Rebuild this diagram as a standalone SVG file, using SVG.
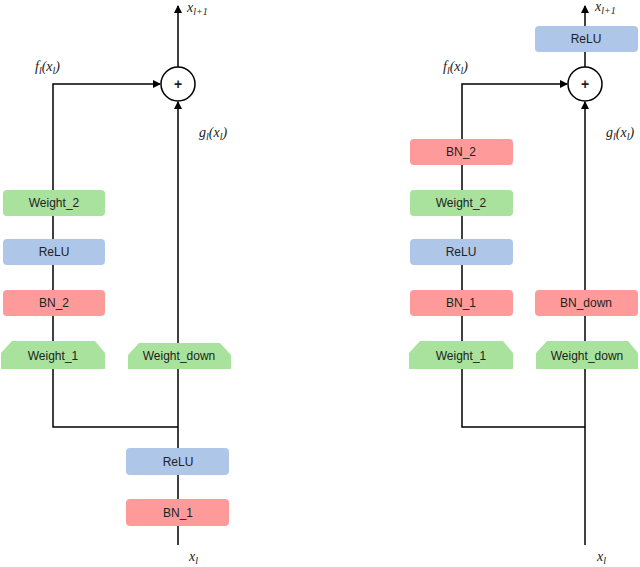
<svg xmlns="http://www.w3.org/2000/svg" width="640" height="567" viewBox="0 0 640 567">
<style>
.g{fill:#a8e29c}.b{fill:#aec6e8}.r{fill:#ff9a9a}
.t{font-family:"Liberation Sans",Arial,sans-serif;font-size:12px;fill:#222;text-anchor:middle}
.m{font-family:"Liberation Serif","Times New Roman",serif;font-style:italic;font-size:14px;fill:#222}
.s{font-size:10px}
.l{stroke:#000;stroke-width:1.5;fill:none}
</style>
<defs><marker id="a" markerWidth="8" markerHeight="8" refX="7" refY="4" orient="auto" markerUnits="userSpaceOnUse"><path d="M0,0 L8,4 L0,8z" fill="#000"/></marker></defs>
<g id="connectors">
<path class="l" d="M178,545 V102" marker-end="url(#a)"/>
<path class="l" d="M178,67 V6" marker-end="url(#a)"/>
<path class="l" d="M178,427 H53 V84 H160" marker-end="url(#a)"/>
<path class="l" d="M585,545 V102" marker-end="url(#a)"/>
<path class="l" d="M585,67 V6" marker-end="url(#a)"/>
<path class="l" d="M585,427 H462 V84 H567" marker-end="url(#a)"/>
</g>
<g id="addL"><circle cx="178" cy="84" r="17" fill="#fff" stroke="#000" stroke-width="1.5"/><text x="178" y="89" class="t" style="font-weight:bold;font-size:14px">+</text></g>
<g id="addR"><circle cx="585" cy="84" r="17" fill="#fff" stroke="#000" stroke-width="1.5"/><text x="585" y="89" class="t" style="font-weight:bold;font-size:14px">+</text></g>
<g id="L_w2"><rect class="g" x="3" y="190" width="102" height="26" rx="4"/><text class="t" x="54" y="207">Weight_2</text></g>
<g id="L_relu"><rect class="b" x="3" y="239" width="102" height="26" rx="4"/><text class="t" x="54" y="256">ReLU</text></g>
<g id="L_bn2"><rect class="r" x="3" y="290" width="102" height="26" rx="4"/><text class="t" x="54" y="307">BN_2</text></g>
<g id="L_w1"><path class="g" d="M12,341 H95 L105,353 V369 H1 V353z"/><text class="t" x="53" y="360">Weight_1</text></g>
<g id="L_wd"><path class="g" d="M139,343 H220 L231,355 V369 H128 V355z"/><text class="t" x="179" y="360">Weight_down</text></g>
<g id="L_relu1"><rect class="b" x="126" y="448" width="103" height="27" rx="4"/><text class="t" x="178" y="466">ReLU</text></g>
<g id="L_bn1"><rect class="r" x="126" y="499" width="103" height="27" rx="4"/><text class="t" x="178" y="517">BN_1</text></g>
<g id="R_relu0"><rect class="b" x="535" y="26" width="103" height="26" rx="4"/><text class="t" x="586" y="43">ReLU</text></g>
<g id="R_bn2"><rect class="r" x="410" y="139" width="103" height="26" rx="4"/><text class="t" x="461" y="156">BN_2</text></g>
<g id="R_w2"><rect class="g" x="410" y="190" width="103" height="26" rx="4"/><text class="t" x="461" y="207">Weight_2</text></g>
<g id="R_relu"><rect class="b" x="410" y="239" width="103" height="26" rx="4"/><text class="t" x="461" y="256">ReLU</text></g>
<g id="R_bn1"><rect class="r" x="410" y="290" width="103" height="26" rx="4"/><text class="t" x="461" y="307">BN_1</text></g>
<g id="R_w1"><path class="g" d="M420,341 H503 L513,353 V369 H409 V353z"/><text class="t" x="461" y="360">Weight_1</text></g>
<g id="R_bnd"><rect class="r" x="535" y="290" width="103" height="26" rx="4"/><text class="t" x="586" y="307">BN_down</text></g>
<g id="R_wd"><path class="g" d="M547,341 H628 L638,353 V369 H536 V353z"/><text class="t" x="587" y="360">Weight_down</text></g>
<g id="labels">
<text class="m" x="187" y="12">x<tspan class="s" dy="3">l+1</tspan></text>
<text class="m" x="35" y="71">f<tspan class="s" dy="3">l</tspan><tspan dy="-3">(x</tspan><tspan class="s" dy="3">l</tspan><tspan dy="-3">)</tspan></text>
<text class="m" x="199" y="137">g<tspan class="s" dy="3">l</tspan><tspan dy="-3">(x</tspan><tspan class="s" dy="3">l</tspan><tspan dy="-3">)</tspan></text>
<text class="m" x="189" y="561">x<tspan class="s" dy="3">l</tspan></text>
<text class="m" x="595" y="11">x<tspan class="s" dy="3">l+1</tspan></text>
<text class="m" x="443" y="71">f<tspan class="s" dy="3">l</tspan><tspan dy="-3">(x</tspan><tspan class="s" dy="3">l</tspan><tspan dy="-3">)</tspan></text>
<text class="m" x="606" y="137">g<tspan class="s" dy="3">l</tspan><tspan dy="-3">(x</tspan><tspan class="s" dy="3">l</tspan><tspan dy="-3">)</tspan></text>
<text class="m" x="597" y="561">x<tspan class="s" dy="3">l</tspan></text>
</g>
</svg>
